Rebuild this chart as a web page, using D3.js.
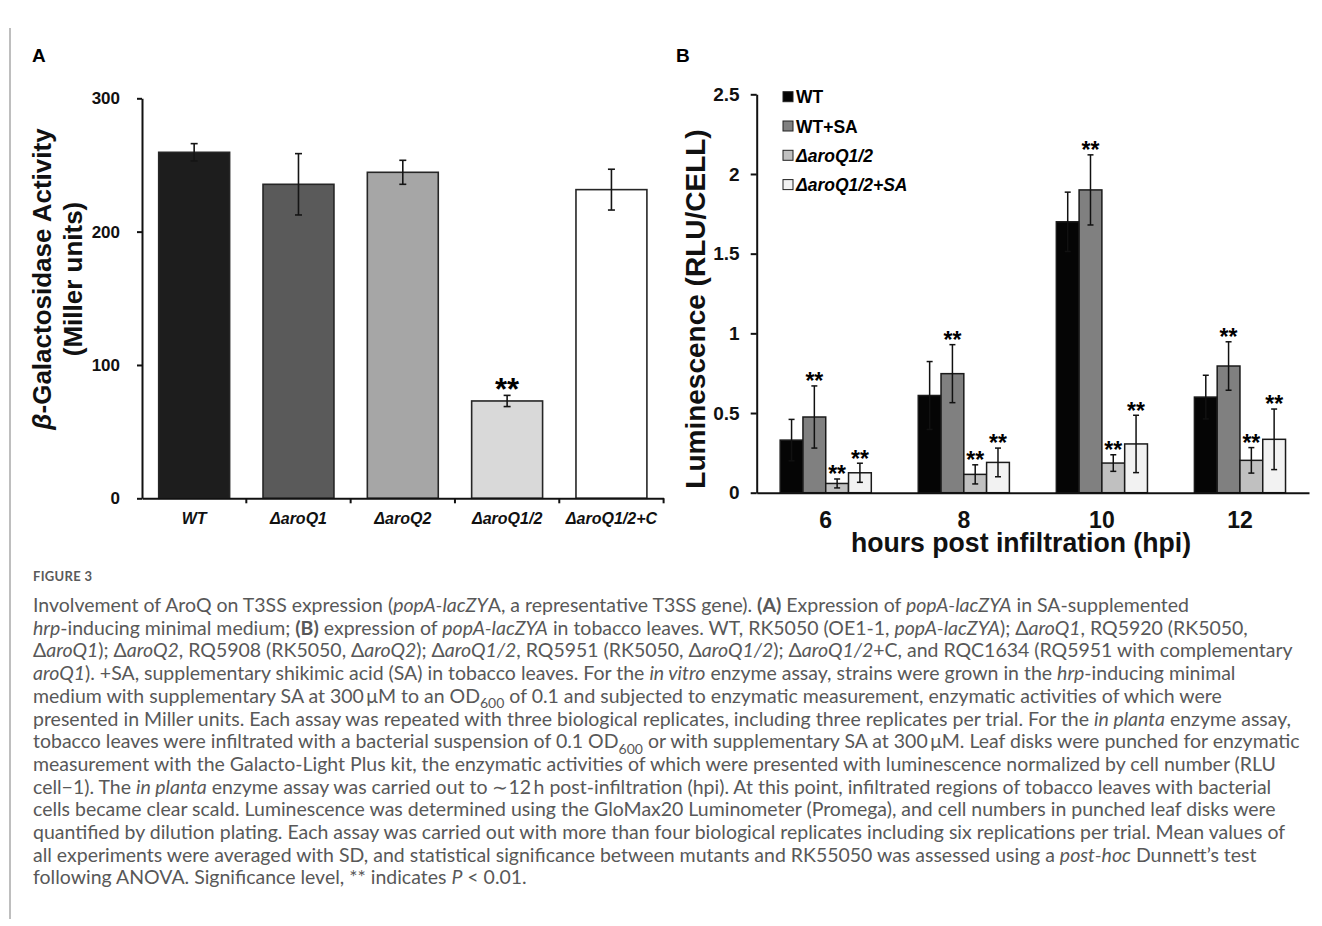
<!DOCTYPE html>
<html>
<head>
<meta charset="utf-8">
<script src="https://cdn.jsdelivr.net/npm/d3@7"></script>
<style>
  body { margin: 0; background: #fff; }
  svg { display: block; }
</style>
</head>
<body>
<script>
var width = 1322,
    height = 926

// panel A: beta-galactosidase activity (Miller units)
var strainsA = ['WT', 'ΔaroQ1', 'ΔaroQ2', 'ΔaroQ1/2', 'ΔaroQ1/2+C']
var activityA = [259.5, 235.5, 244.5, 73, 231.5]
var sdA = [6.5, 23, 9, 4.2, 15.3]
var sigA = ['', '', '', '**', '']
var yTicksA = [0, 100, 200, 300]
var fillA = ['#1d1d1d', '#5a5a5a', '#a6a6a6', '#d9d9d9', '#ffffff']

// panel B: luminescence (RLU/CELL) by hpi
var hpi = ['6', '8', '10', '12']
var seriesB = ['WT', 'WT+SA', 'ΔaroQ1/2', 'ΔaroQ1/2+SA']
var lumWT = [0.33, 0.61, 1.70, 0.60]
var lumWTSA = [0.475, 0.747, 1.90, 0.795]
var lumAro = [0.058, 0.115, 0.186, 0.203]
var lumAroSA = [0.125, 0.19, 0.306, 0.335]
var sdWT = [0.13, 0.213, 0.186, 0.137]
var sdWTSA = [0.195, 0.182, 0.22, 0.152]
var sdAro = [0.028, 0.06, 0.052, 0.08]
var sdAroSA = [0.06, 0.09, 0.18, 0.19]
var sigB = ['', '**', '**', '**']
var yTicksB = [0, 0.5, 1, 1.5, 2, 2.5]
var fillB = ['#050505', '#808080', '#c0c0c0', '#f2f2f2']

var captionHead = 'FIGURE 3'
var captionLines = [
  'Involvement of AroQ on T3SS expression (<i>popA-lacZY</i>A, a representative T3SS gene). <b>(A)</b> Expression of <i>popA-lacZYA</i> in SA-supplemented',
  '<i>hrp</i>-inducing minimal medium; <b>(B)</b> expression of <i>popA-lacZYA</i> in tobacco leaves. WT, RK5050 (OE1-1, <i>popA-lacZYA</i>); Δ<i>aroQ1</i>, RQ5920 (RK5050,',
  'Δ<i>aroQ1</i>); Δ<i>aroQ2</i>, RQ5908 (RK5050, Δ<i>aroQ2</i>); Δ<i>aroQ1/2</i>, RQ5951 (RK5050, Δ<i>aroQ1/2</i>); Δ<i>aroQ1/2</i>+C, and RQC1634 (RQ5951 with complementary',
  '<i>aroQ1</i>). +SA, supplementary shikimic acid (SA) in tobacco leaves. For the <i>in vitro</i> enzyme assay, strains were grown in the <i>hrp</i>-inducing minimal',
  'medium with supplementary SA at 300\u2009μM to an OD<sub>600</sub> of 0.1 and subjected to enzymatic measurement, enzymatic activities of which were',
  'presented in Miller units. Each assay was repeated with three biological replicates, including three replicates per trial. For the <i>in planta</i> enzyme assay,',
  'tobacco leaves were infiltrated with a bacterial suspension of 0.1 OD<sub>600</sub> or with supplementary SA at 300\u2009μM. Leaf disks were punched for enzymatic',
  'measurement with the Galacto-Light Plus kit, the enzymatic activities of which were presented with luminescence normalized by cell number (RLU',
  'cell\u22121). The <i>in planta</i> enzyme assay was carried out to \u223c12\u2009h post-infiltration (hpi). At this point, infiltrated regions of tobacco leaves with bacterial',
  'cells became clear scald. Luminescence was determined using the GloMax20 Luminometer (Promega), and cell numbers in punched leaf disks were',
  'quantified by dilution plating. Each assay was carried out with more than four biological replicates including six replications per trial. Mean values of',
  'all experiments were averaged with SD, and statistical significance between mutants and RK55050 was assessed using a <i>post-hoc</i> Dunnett\u2019s test',
  'following ANOVA. Significance level, ** indicates <i>P</i> &lt; 0.01.'
]

var chartFont = '"Liberation Sans", Arial, sans-serif'
var capFont = 'Lato, "Open Sans", sans-serif'

var svg = d3.select('body').append('svg')
    .attr('width', width)
    .attr('height', height)
    .style('font-family', chartFont)

// left frame rule
svg.append('line')
    .attr('x1', 10).attr('x2', 10)
    .attr('y1', 28).attr('y2', 919)
    .attr('stroke', '#a8a8a8').attr('stroke-width', 1.5)

// ---------- panel A ----------
var xA = d3.scaleBand().domain(strainsA)
    .range([142, 663.6]).paddingInner(0.32).paddingOuter(0.16)
var yA = d3.scaleLinear().domain([0, 300]).range([498.3, 98.3])

var gA = svg.append('g')

gA.append('text').text('A')
    .attr('x', 32).attr('y', 62)
    .style('font-size', '19px').style('font-weight', 'bold')

var dataA = strainsA.map(function(s, i) {
  return {name: s, v: activityA[i], sd: sdA[i], sig: sigA[i], fill: fillA[i]}
})

gA.selectAll('rect.bar').data(dataA).enter().append('rect')
    .attr('class', 'bar')
    .attr('x', function(d) { return xA(d.name) })
    .attr('width', xA.bandwidth())
    .attr('y', function(d) { return yA(d.v) })
    .attr('height', function(d) { return yA(0) - yA(d.v) })
    .attr('fill', function(d) { return d.fill })
    .attr('stroke', '#262626').attr('stroke-width', 1.6)

var errA = gA.selectAll('g.err').data(dataA).enter().append('g')
    .attr('class', 'err')
    .attr('transform', function(d) { return 'translate(' + (xA(d.name) + xA.bandwidth() / 2) + ',0)' })
    .attr('stroke', '#151515').attr('stroke-width', 1.6)
errA.append('line')
    .attr('y1', function(d) { return yA(d.v - d.sd) })
    .attr('y2', function(d) { return yA(d.v + d.sd) })
errA.selectAll('line.cap').data(function(d) { return [d.v - d.sd, d.v + d.sd] }).enter().append('line')
    .attr('class', 'cap')
    .attr('x1', -3.5).attr('x2', 3.5)
    .attr('y1', function(v) { return yA(v) }).attr('y2', function(v) { return yA(v) })

gA.selectAll('text.sig').data(dataA.filter(function(d) { return d.sig })).enter().append('text')
    .attr('class', 'sig')
    .attr('x', function(d) { return xA(d.name) + xA.bandwidth() / 2 })
    .attr('y', function(d) { return yA(d.v + d.sd) - 13 + 0.58 * 31 })
    .attr('text-anchor', 'middle')
    .style('font-size', '31px').style('font-weight', 'bold')
    .text(function(d) { return d.sig })

var axA = gA.append('g')
    .attr('transform', 'translate(142,0)')
    .call(d3.axisLeft(yA).tickValues(yTicksA).tickSize(5).tickSizeOuter(0).tickPadding(17))
axA.select('.domain').attr('stroke', '#111').attr('stroke-width', 2)
axA.selectAll('.tick line').attr('stroke', '#111').attr('stroke-width', 2)
axA.selectAll('.tick text')
    .style('font-family', chartFont).style('font-size', '17px').style('font-weight', 'bold').attr('fill', '#111')

var axAx = gA.append('g')
    .attr('transform', 'translate(0,' + yA(0) + ')')
    .call(d3.axisBottom(xA).tickSize(0).tickSizeOuter(0).tickPadding(14))
axAx.select('.domain').attr('stroke', '#111').attr('stroke-width', 2)
axAx.selectAll('.tick text')
    .style('font-family', chartFont).style('font-size', '16px')
    .style('font-weight', 'bold').style('font-style', 'italic').attr('fill', '#111')

// category boundary ticks
gA.selectAll('line.bt').data(strainsA.slice(1).concat(['end'])).enter().append('line')
    .attr('class', 'bt')
    .attr('x1', function(d, i) { return xA.range()[0] + xA.step() * (i + 1) })
    .attr('x2', function(d, i) { return xA.range()[0] + xA.step() * (i + 1) })
    .attr('y1', yA(0)).attr('y2', yA(0) + 5)
    .attr('stroke', '#111').attr('stroke-width', 2)

var ytA = gA.append('text')
    .attr('transform', 'translate(51,279) rotate(-90)')
    .attr('text-anchor', 'middle')
    .style('font-size', '26px').style('font-weight', 'bold').attr('fill', '#111')
ytA.append('tspan').style('font-style', 'italic').text('β')
ytA.append('tspan').text('-Galactosidase Activity')
gA.append('text')
    .attr('transform', 'translate(82,279) rotate(-90)')
    .attr('text-anchor', 'middle')
    .style('font-size', '26px').style('font-weight', 'bold').attr('fill', '#111')
    .text('(Miller units)')

// ---------- panel B ----------
var valsB = [lumWT, lumWTSA, lumAro, lumAroSA]
var sdsB = [sdWT, sdWTSA, sdAro, sdAroSA]

var x0 = d3.scaleBand().domain(hpi).range([756.7, 1309]).paddingInner(0.34).paddingOuter(0.17)
var x1 = d3.scaleBand().domain(seriesB).range([0, x0.bandwidth()])
var yB = d3.scaleLinear().domain([0, 2.5]).range([492.7, 94.3])

var gB = svg.append('g')

gB.append('text').text('B')
    .attr('x', 676).attr('y', 62)
    .style('font-size', '19px').style('font-weight', 'bold')

var groups = gB.selectAll('g.grp').data(hpi).enter().append('g')
    .attr('class', 'grp')
    .attr('transform', function(d) { return 'translate(' + x0(d) + ',0)' })

var barsB = groups.selectAll('g.b').data(function(h, hi) {
  return seriesB.map(function(s, si) {
    return {s: s, si: si, v: valsB[si][hi], sd: sdsB[si][hi], sig: sigB[si]}
  })
}).enter().append('g').attr('class', 'b')

barsB.append('rect')
    .attr('x', function(d) { return x1(d.s) })
    .attr('width', x1.bandwidth())
    .attr('y', function(d) { return yB(d.v) })
    .attr('height', function(d) { return yB(0) - yB(d.v) })
    .attr('fill', function(d) { return fillB[d.si] })
    .attr('stroke', '#1a1a1a').attr('stroke-width', 1.5)

var errB = barsB.append('g')
    .attr('transform', function(d) { return 'translate(' + (x1(d.s) + x1.bandwidth() / 2) + ',0)' })
    .attr('stroke', '#111').attr('stroke-width', 1.5)
errB.append('line')
    .attr('y1', function(d) { return yB(d.v - d.sd) })
    .attr('y2', function(d) { return yB(d.v + d.sd) })
errB.selectAll('line.cap').data(function(d) { return [d.v - d.sd, d.v + d.sd] }).enter().append('line')
    .attr('class', 'cap')
    .attr('x1', -3).attr('x2', 3)
    .attr('y1', function(v) { return yB(v) }).attr('y2', function(v) { return yB(v) })

barsB.filter(function(d) { return d.sig }).append('text')
    .attr('x', function(d) { return x1(d.s) + x1.bandwidth() / 2 })
    .attr('y', function(d) { return yB(d.v + d.sd) - 10 + 0.58 * 23 })
    .attr('text-anchor', 'middle')
    .style('font-size', '23px').style('font-weight', 'bold')
    .text(function(d) { return d.sig })

var axB = gB.append('g')
    .attr('transform', 'translate(756.7,0)')
    .call(d3.axisLeft(yB).tickValues(yTicksB).tickFormat(function(d) { return String(d) })
      .tickSize(6).tickSizeOuter(0).tickPadding(11))
axB.select('.domain').attr('stroke', '#111').attr('stroke-width', 2)
axB.selectAll('.tick line').attr('stroke', '#111').attr('stroke-width', 2)
axB.selectAll('.tick text')
    .style('font-family', chartFont).style('font-size', '19px').style('font-weight', 'bold').attr('fill', '#111')

var axBx = gB.append('g')
    .attr('transform', 'translate(0,' + yB(0) + ')')
    .call(d3.axisBottom(x0).tickSize(0).tickSizeOuter(0).tickPadding(19))
axBx.select('.domain').attr('stroke', '#111').attr('stroke-width', 2)
axBx.selectAll('.tick text')
    .style('font-family', chartFont).style('font-size', '23px').style('font-weight', 'bold').attr('fill', '#111')

gB.append('text')
    .attr('x', 1021).attr('y', 552)
    .attr('text-anchor', 'middle')
    .attr('textLength', 340).attr('lengthAdjust', 'spacingAndGlyphs')
    .style('font-size', '28px').style('font-weight', 'bold').attr('fill', '#111')
    .text('hours post infiltration (hpi)')

gB.append('text')
    .attr('transform', 'translate(705,309) rotate(-90)')
    .attr('text-anchor', 'middle')
    .style('font-size', '28px').style('font-weight', 'bold').attr('fill', '#111')
    .text('Luminescence (RLU/CELL)')

// legend
var leg = gB.selectAll('g.leg').data(seriesB).enter().append('g')
    .attr('class', 'leg')
    .attr('transform', function(d, i) { return 'translate(783,' + (96.7 + i * 29.3) + ')' })
leg.append('rect')
    .attr('x', 0).attr('y', -5).attr('width', 10).attr('height', 10)
    .attr('fill', function(d, i) { return fillB[i] })
    .attr('stroke', '#222').attr('stroke-width', 1)
leg.append('text')
    .attr('x', 13).attr('y', 6.5)
    .style('font-size', '17.5px').style('font-weight', 'bold')
    .style('font-style', function(d) { return d.indexOf('Δ') === 0 ? 'italic' : 'normal' })
    .text(function(d) { return d })

// ---------- caption ----------
function richLine(sel, str, fs) {
  var parts = str.replace(/&lt;/g, '<<').split(/(<\/?i>|<\/?b>|<\/?sub>)/)
  var it = false, bd = false, sb = false, shift = 0
  parts.forEach(function(p) {
    if (p === '<i>') it = true
    else if (p === '</i>') it = false
    else if (p === '<b>') bd = true
    else if (p === '</b>') bd = false
    else if (p === '<sub>') sb = true
    else if (p === '</sub>') sb = false
    else if (p.length) {
      var t = sel.append('tspan').text(p.replace(/<</g, '<'))
      if (it) t.style('font-style', 'italic')
      if (bd) t.style('font-weight', 'bold')
      var want = sb ? fs * 0.28 : 0
      if (want !== shift) { t.attr('dy', want - shift); shift = want }
      if (sb) t.style('font-size', (fs * 0.72) + 'px')
    }
  })
}

var cap = svg.append('g').style('font-family', capFont).attr('fill', '#585858')

// size the caption so a plain (non-italic) line spans its width in the reference
var probe = cap.append('text').style('font-size', '16px')
richLine(probe, captionLines[10], 16)
var capSize = 16 * 1253 / probe.node().getComputedTextLength()
probe.remove()

cap.append('text')
    .attr('x', 33).attr('y', 581)
    .style('font-size', '13px').style('font-weight', 'bold').attr('fill', '#5a5a5a')
    .style('letter-spacing', '0.3px')
    .text(captionHead)

captionLines.forEach(function(line, i) {
  var t = cap.append('text')
      .attr('x', 33).attr('y', 612 + i * 22.7)
      .style('font-size', capSize + 'px')
  richLine(t, line, capSize)
})
</script>
</body>
</html>
